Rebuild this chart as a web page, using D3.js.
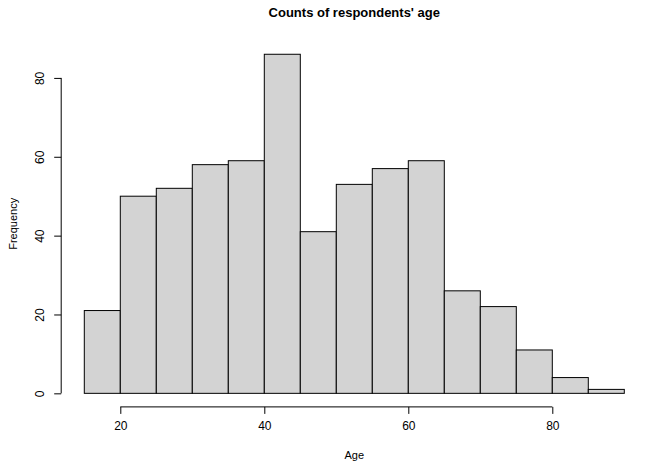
<!DOCTYPE html>
<html>
<head>
<meta charset="utf-8">
<script src="https://cdn.jsdelivr.net/npm/d3@7"></script>
<style>
  body { margin: 0; background: #fff; }
  text { font-family: "Liberation Sans", Arial, sans-serif; }
</style>
</head>
<body>
<div id="chart-area"></div>
<script>
const binStarts = [15, 20, 25, 30, 35, 40, 45, 50, 55, 60, 65, 70, 75, 80, 85]
const binWidth = 5
const counts = [21, 50, 52, 58, 59, 86, 41, 53, 57, 59, 26, 22, 11, 4, 1]
const xTicks = [20, 40, 60, 80]
const yTicks = [0, 20, 40, 60, 80]

const W = 658, H = 463
// plot region as R draws it
const PLOT = { LEFT: 62.7, RIGHT: 645.9, TOP: 40.7, BOTTOM: 406.9 }

const svg = d3.select('#chart-area').append('svg')
  .attr('width', W)
  .attr('height', H)

// R pads the range by 4% on each side
const xMin = binStarts[0], xMax = binStarts[binStarts.length - 1] + binWidth
const xPad = (xMax - xMin) * 0.04
const x = d3.scaleLinear()
  .domain([xMin - xPad, xMax + xPad])
  .range([PLOT.LEFT, PLOT.RIGHT])

const yMax = d3.max(counts)
const yPad = yMax * 0.04
const y = d3.scaleLinear()
  .domain([-yPad, yMax + yPad])
  .range([PLOT.BOTTOM, PLOT.TOP])

// bars
svg.selectAll('rect.bar').data(counts)
  .enter()
  .append('rect')
  .attr('class', 'bar')
  .attr('x', (d, i) => x(binStarts[i]))
  .attr('y', d => y(d))
  .attr('width', x(binWidth) - x(0))
  .attr('height', d => y(0) - y(d))
  .attr('fill', '#d3d3d3')
  .attr('stroke', '#000')
  .attr('stroke-width', 1)

// x axis
const xAxisCall = d3.axisBottom(x)
  .tickValues(xTicks)
  .tickSize(7)
  .tickPadding(8)
  .tickSizeOuter(0)
const xAxis = svg.append('g')
  .attr('transform', `translate(0, ${PLOT.BOTTOM})`)
  .call(xAxisCall)
xAxis.select('.domain').remove()
xAxis.append('line')
  .attr('x1', x(xTicks[0])).attr('x2', x(xTicks[xTicks.length - 1]))
  .attr('stroke', '#000')
xAxis.selectAll('text').attr('font-size', '12px').attr('fill', '#000')
  .attr('font-family', '"Liberation Sans", Arial, sans-serif')

// y axis
const yAxisCall = d3.axisLeft(y)
  .tickValues(yTicks)
  .tickSize(7)
  .tickSizeOuter(0)
const yAxis = svg.append('g')
  .attr('transform', `translate(${PLOT.LEFT - 1.5}, 0)`)
  .call(yAxisCall)
yAxis.select('.domain').remove()
yAxis.append('line')
  .attr('y1', y(yTicks[0])).attr('y2', y(yTicks[yTicks.length - 1]))
  .attr('stroke', '#000')
yAxis.selectAll('.tick text')
  .attr('x', null).attr('dy', null)
  .attr('font-size', '12px').attr('fill', '#000')
  .attr('font-family', '"Liberation Sans", Arial, sans-serif')
  .attr('text-anchor', 'middle')
  .attr('transform', 'translate(-17, 0) rotate(-90)')
  .attr('y', 0)

// labels
svg.append('text')
  .attr('x', (PLOT.LEFT + PLOT.RIGHT) / 2)
  .attr('y', 17)
  .attr('text-anchor', 'middle')
  .attr('font-size', '13px')
  .attr('font-weight', '700')
  .text("Counts of respondents' age")

svg.append('text')
  .attr('x', (PLOT.LEFT + PLOT.RIGHT) / 2)
  .attr('y', 459)
  .attr('text-anchor', 'middle')
  .attr('font-size', '11px')
  .text('Age')

svg.append('text')
  .attr('transform', `translate(17, ${(PLOT.TOP + PLOT.BOTTOM) / 2}) rotate(-90)`)
  .attr('text-anchor', 'middle')
  .attr('font-size', '11px')
  .text('Frequency')
</script>
</body>
</html>
